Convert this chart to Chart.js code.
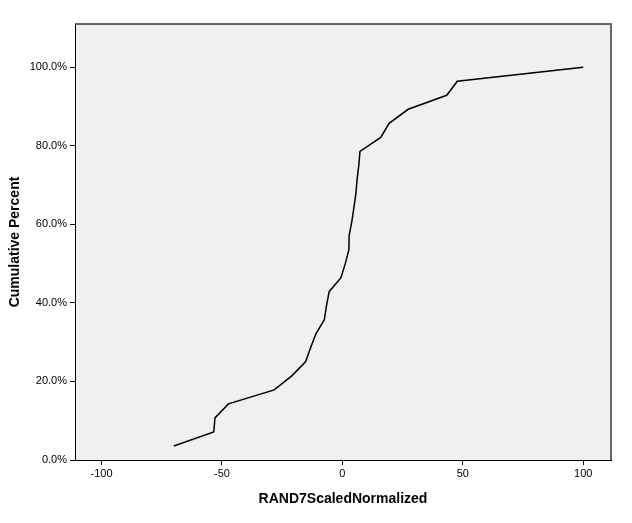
<!DOCTYPE html>
<html>
<head>
<meta charset="utf-8">
<script src="https://cdn.jsdelivr.net/npm/chart.js@4"></script>
<style>
  body { margin: 0; background: #fff; }
</style>
</head>
<body>
<canvas id="myChart" width="632" height="523"></canvas>
<script>
// Valores de la curva acumulada (x = RAND7ScaledNormalized, y = porcentaje acumulado)
const valoresX = [-70, -53.4, -52.9, -47.3, -28.3, -21, -15.3, -13.2, -11, -7.5, -6.6, -5.5, -0.6, 1.2,
                  2.7, 2.8, 3.9, 4.8, 5.6, 6.1, 6.8, 7.3, 15.9, 19.4, 27.3, 43.3, 47.7, 100];
const porcentajes = [3.57, 7.14, 10.71, 14.29, 17.86, 21.43, 25.0, 28.57, 32.14, 35.71, 39.29, 42.86, 46.43, 50.0,
                     53.57, 57.14, 60.71, 64.29, 67.86, 71.43, 75.0, 78.57, 82.14, 85.71, 89.29, 92.86, 96.43, 100.0];

// Marcas de los ejes
const ticksX = [-100, -50, 0, 50, 100];
const ticksY = [0, 20, 40, 60, 80, 100];

const puntos = valoresX.map((x, i) => ({ x: x, y: porcentajes[i] }));

// Fondo gris del area de la grafica y marco
const fondoPlugin = {
  id: 'fondo',
  beforeDraw(chart) {
    const { ctx, chartArea: a } = chart;
    ctx.save();
    ctx.fillStyle = '#f0f0f0';
    ctx.fillRect(a.left, a.top, a.right - a.left, a.bottom - a.top);
    ctx.strokeStyle = '#666666';
    ctx.lineWidth = 2;
    ctx.beginPath();
    ctx.moveTo(a.left, a.top);
    ctx.lineTo(a.right, a.top);
    ctx.lineTo(a.right, a.bottom);
    ctx.stroke();
    ctx.restore();
  }
};

const fuente = "'Liberation Sans', Arial, sans-serif";

new Chart(document.getElementById('myChart'), {
  type: 'scatter',
  data: {
    datasets: [{
      data: puntos,
      showLine: true,
      borderColor: '#000',
      borderWidth: 1.5,
      pointRadius: 0,
      tension: 0
    }]
  },
  options: {
    responsive: false,
    animation: false,
    layout: { padding: { top: 24, right: 21, left: 0, bottom: 0 } },
    plugins: { legend: { display: false }, tooltip: { enabled: false } },
    scales: {
      x: {
        type: 'linear',
        min: -111,
        max: 111.5,
        afterFit: s => { s.height = 63; },
        afterBuildTicks: s => { s.ticks = ticksX.map(v => ({ value: v })); },
        grid: { drawOnChartArea: false, drawTicks: true, tickLength: 5, color: '#000' },
        border: { display: true, color: '#000', width: 1 },
        ticks: {
          color: '#000',
          padding: 2,
          maxRotation: 0,
          font: { family: fuente, size: 11 },
          callback: v => v
        },
        title: {
          display: true,
          text: 'RAND7ScaledNormalized',
          color: '#000',
          padding: { top: 0, bottom: 15 },
          font: { family: fuente, size: 14, weight: 'bold' }
        }
      },
      y: {
        type: 'linear',
        min: 0,
        max: 111,
        afterFit: s => { s.width = 75; },
        afterBuildTicks: s => { s.ticks = ticksY.map(v => ({ value: v })); },
        grid: { drawOnChartArea: false, drawTicks: true, tickLength: 5, color: '#000' },
        border: { display: true, color: '#000', width: 1 },
        ticks: {
          color: '#000',
          padding: 3,
          font: { family: fuente, size: 11 },
          callback: v => v.toFixed(1) + '%'
        },
        title: {
          display: true,
          text: 'Cumulative Percent',
          color: '#000',
          padding: { top: 7, bottom: 0 },
          font: { family: fuente, size: 14, weight: 'bold' }
        }
      }
    }
  },
  plugins: [fondoPlugin]
});
</script>
</body>
</html>
